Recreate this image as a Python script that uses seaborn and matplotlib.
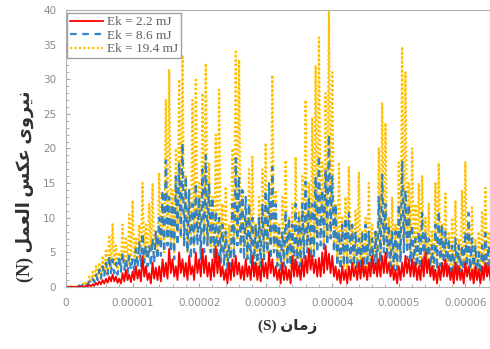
import numpy as np
import pandas as pd
import matplotlib
matplotlib.use("Agg")
import matplotlib.pyplot as plt
import seaborn as sns
from matplotlib.ticker import MultipleLocator, FuncFormatter

# samples every 0.5 us: zigzag peak (high) then trough (low) half a step later
step = 5e-7

orange_high = [
    0.1, 0.2, 0.1, 0.3, 0.2, 0.5, 0.8, 1.5, 2.2, 3.0,
    3.5, 4.5, 5.5, 7.5, 9.2, 6, 5, 9, 7, 10.5,
    12.5, 7, 9, 15, 9, 12, 15, 8, 16.5, 12,
    27, 31.3, 14, 20, 30, 33.5, 16, 12, 27, 30.2,
    15, 28, 32.3, 18, 13, 22, 28.5, 12, 14.5, 9,
    20, 34, 32.8, 14, 10, 17, 18.8, 9, 13, 17,
    20.8, 12, 30.6, 14, 9, 13, 18.3, 10, 12, 18.8,
    11, 16, 27, 15, 24.5, 32, 36, 18, 28, 39.7,
    31, 12, 18, 10, 13, 17.3, 9, 11, 16.5, 8,
    10, 15, 9, 8, 20, 26.5, 23.7, 10, 13, 9,
    18, 34.7, 31, 15, 20, 12, 15, 16, 10, 12,
    8, 15, 17.9, 9, 13.5, 8, 10, 12.5, 7, 14,
    18, 9, 11.5, 7, 8, 11, 14.3, 8,
]
orange_low = [
    0, 0, 0, 0.1, 0, 0.2, 0.3, 0.6, 1.0, 1.2,
    1.5, 1.8, 2.0, 2.5, 3, 2.5, 3, 3.5, 3, 4,
    3.5, 4, 5, 4, 4.5, 5, 4, 5, 6, 5,
    7, 6, 5, 8, 7, 6, 5, 7, 6, 8,
    5, 7, 6, 5, 4, 6, 5, 4, 3, 4,
    5, 7, 6, 5, 4, 5, 4, 3, 2.5, 4,
    5, 6, 5, 3, 2, 3, 4, 3, 2.5, 4,
    3, 5, 6, 4, 5, 7, 8, 6, 7, 8,
    6, 4, 3, 3, 2.5, 4, 3, 2.5, 3, 2,
    2.5, 3, 2, 2, 4, 6, 5, 3, 2.5, 3,
    4, 7, 6, 5, 4, 3, 3, 3.5, 3, 2.5,
    2, 3, 4, 3, 2.5, 2, 2, 3, 2.5, 3,
    3.5, 2.5, 2, 1.5, 1.5, 2.5, 3, 2,
]
blue_high = [
    0, 0, 0.1, 0.1, 0.2, 0.3, 0.5, 0.8, 1.2, 1.8,
    2.5, 3, 3.5, 4.5, 4, 3.5, 4.5, 5, 4, 4.5,
    4, 5.5, 6.5, 7.8, 6, 6, 7, 8, 10, 14,
    18.3, 13, 12, 16, 18, 20.8, 16, 14, 12, 15,
    13, 17, 19, 15, 13, 11, 10, 9, 8, 6,
    12, 18.6, 16, 14, 13, 12, 10, 9, 10, 12,
    14, 15, 17.3, 12, 9, 8, 11, 10, 9, 12,
    10, 12, 15.2, 13, 12, 16, 19, 14, 17, 22,
    16, 12, 8, 9, 10, 10.7, 9, 8, 7, 8,
    9, 8, 7, 8, 13, 16.2, 12, 9, 8, 8,
    12, 18.3, 14, 12, 9, 7, 8, 10.7, 8, 7,
    6, 9, 11, 9, 8, 7, 6, 7, 6, 6,
    8, 10.7, 7, 6, 5, 6, 7.8, 6,
]
blue_low = [
    0, 0, 0, 0, 0.1, 0.1, 0.3, 0.5, 0.7, 1,
    1.2, 1.5, 1.8, 2, 2, 1.8, 2.2, 2.5, 2, 2.5,
    2.2, 2.8, 3, 3.5, 3, 3, 3.5, 4, 4.5, 5,
    6, 5, 4, 6, 7, 6, 5, 4, 5, 6,
    4, 5, 6, 5, 4, 3, 3.5, 3, 2.5, 3,
    4, 6, 5, 4, 4, 3.5, 3, 2.5, 3, 4,
    5, 4, 5, 3, 2.5, 3, 3.5, 3, 2.5, 3,
    3, 4, 5, 4, 4, 5, 6, 5, 6, 7,
    5, 3, 2.5, 3, 3, 3.5, 3, 2.5, 2.5, 2,
    3, 2.5, 2, 2.5, 3.5, 5, 4, 3, 2.5, 2.5,
    3.5, 5, 4, 3.5, 3, 2, 2.5, 3, 2.5, 2,
    1.5, 2.5, 3, 2.5, 2, 1.5, 1.5, 2, 2, 1.5,
    2, 2.5, 2, 1.5, 1, 1.5, 2, 1.5,
]
red_high = [
    0, 0, 0, 0, 0.1, 0.1, 0.2, 0.3, 0.4, 0.6,
    0.8, 1, 1.2, 1.5, 1.8, 1.5, 1.2, 2, 2.5, 1.8,
    2.2, 3, 2.5, 4.5, 3, 2, 3.5, 2.8, 3, 4,
    3.5, 5.5, 4, 3, 5, 4, 3.5, 4.5, 3, 5,
    4, 5.5, 4.5, 3.5, 4, 5.8, 4.5, 3, 2.5, 3.5,
    4, 4.5, 3.5, 3, 4, 3, 4.5, 3.5, 3, 4,
    3.5, 5, 4, 3, 2.5, 3.5, 3, 2.5, 4.5, 4,
    3, 4, 4.5, 5.5, 4.5, 4, 4.2, 5, 6, 4.8,
    4.5, 3, 2.5, 3, 2.5, 3, 3.5, 3, 3.5, 4,
    3, 3.5, 4.5, 3.5, 4, 4.5, 5, 3.5, 3, 2.5,
    3, 3.5, 4.5, 4, 4, 3.5, 3, 4, 5, 4,
    3, 2.5, 3, 3.5, 4, 3, 2.5, 3.5, 3, 2.5,
    3.5, 3, 2.5, 3, 2.5, 3, 3.5, 3,
]
red_low = [
    0, 0, 0, 0, 0, 0, 0.1, 0.1, 0.2, 0.3,
    0.4, 0.5, 0.6, 0.8, 0.8, 0.6, 0.5, 0.8, 1, 0.7,
    1, 1.2, 0.8, 1.5, 1, 0.5, 1.2, 1, 0.8, 1.5,
    1.2, 2, 1.5, 1, 2, 1.5, 1, 1.8, 1, 2,
    1.5, 2, 1.5, 1, 1.5, 2, 1.5, 1, 0.5, 1,
    1.5, 1.8, 1.2, 1, 1.5, 1, 1.5, 1, 0.8, 1.5,
    1.2, 2, 1.5, 1, 0.5, 1, 1, 0.5, 1.5, 1.5,
    1, 1.5, 2, 2.5, 2, 1.5, 1.5, 2, 2.5, 2,
    1.5, 1, 0.5, 1, 0.5, 1, 1.5, 1, 1.2, 1.5,
    1, 1.5, 2, 1.5, 1.5, 2, 2, 1.5, 1, 0.5,
    1, 1.5, 2, 1.5, 1.5, 1, 1, 1.5, 2, 1.5,
    1, 0.5, 1, 1.5, 1.5, 1, 0.5, 1, 1, 0.5,
    1.5, 1, 0.5, 1, 0.5, 1, 1.5, 1,
]

labels = ["Ek = 2.2 mJ", "Ek = 8.6 mJ", "Ek = 19.4 mJ"]
colors = ["#FF0000", "#1F78C8", "#FFC000"]

# Persian labels, pre-shaped (presentation forms, visual order)
ylabel = "(N) \uFEDE\uFEE4\uFECC\uFEDF\uFE8D \uFEB2\uFB91\uFECB \uFBFC\uFEED\uFEAE\uFBFF\uFEE7"
xlabel = "(S) \uFEE5\uFE8E\uFEE3\uFEAF"


def series_frame(high, low, label):
    t = np.arange(len(high)) * step
    return pd.DataFrame({
        "time": np.column_stack([t, t + step / 2]).ravel(),
        "force": np.column_stack([high, low]).ravel(),
        "series": label,
    })


frames = {
    labels[0]: series_frame(red_high, red_low, labels[0]),
    labels[1]: series_frame(blue_high, blue_low, labels[1]),
    labels[2]: series_frame(orange_high, orange_low, labels[2]),
}

fig = plt.figure(figsize=(4.9, 3.49), dpi=100)
ax = fig.add_axes([0.1347, 0.1777, 0.8653, 0.7937])

styles = {
    labels[2]: dict(linewidth=1.6, linestyle=(0, (1, 1))),
    labels[1]: dict(linewidth=1.6, linestyle=(0, (3, 2.5)), alpha=0.9),
    labels[0]: dict(linewidth=1.3, linestyle="-"),
}
# orange underneath, blue dashes over it, red on top
for lab in [labels[2], labels[1], labels[0]]:
    sns.lineplot(data=frames[lab], x="time", y="force", color=colors[labels.index(lab)],
                 label=lab, estimator=None, ax=ax, **styles[lab])

ax.set_xlim(0, 6.37e-5)
ax.set_ylim(0, 40)
ax.xaxis.set_major_locator(MultipleLocator(1e-5))
ax.xaxis.set_minor_locator(MultipleLocator(2e-6))
ax.yaxis.set_major_locator(MultipleLocator(5))
ax.yaxis.set_minor_locator(MultipleLocator(1))
ax.xaxis.set_major_formatter(FuncFormatter(lambda v, p: "0" if v == 0 else f"{v:.5f}"))
ax.tick_params(axis="both", which="both", direction="in", colors="#A6A6A6",
               labelcolor="#8C8C8C", labelsize=7.5)
ax.tick_params(axis="both", which="major", length=3)
ax.tick_params(axis="both", which="minor", length=2.5)
ax.tick_params(axis="x", pad=8)
ax.tick_params(axis="y", pad=7)
for side in ax.spines:
    ax.spines[side].set_color("#B0B0B0")
ax.set_xlabel("")
ax.set_ylabel("")

handles, labs = ax.get_legend_handles_labels()
order = [labs.index(l) for l in labels]
ax.legend([handles[i] for i in order], labels, loc="upper left",
          bbox_to_anchor=(0.003, 0.988), borderaxespad=0, fancybox=False,
          edgecolor="#A0A0A0", framealpha=1, handlelength=2.5, handletextpad=0.3,
          borderpad=0.2, labelspacing=0.1, labelcolor="#606060",
          prop={"family": "Liberation Serif", "size": 9.5})

fig.text(25 / 490, 1 - 186 / 349, ylabel, rotation=90, ha="center", va="center",
         family=["Liberation Serif", "DejaVu Sans"], fontweight="bold", fontsize=13,
         color="#303030")
fig.text(288 / 490, 1 - 326 / 349, xlabel, ha="center", va="center",
         family=["Liberation Serif", "DejaVu Sans"], fontweight="bold", fontsize=11,
         color="#303030")

fig.savefig("out.png", dpi=100)
